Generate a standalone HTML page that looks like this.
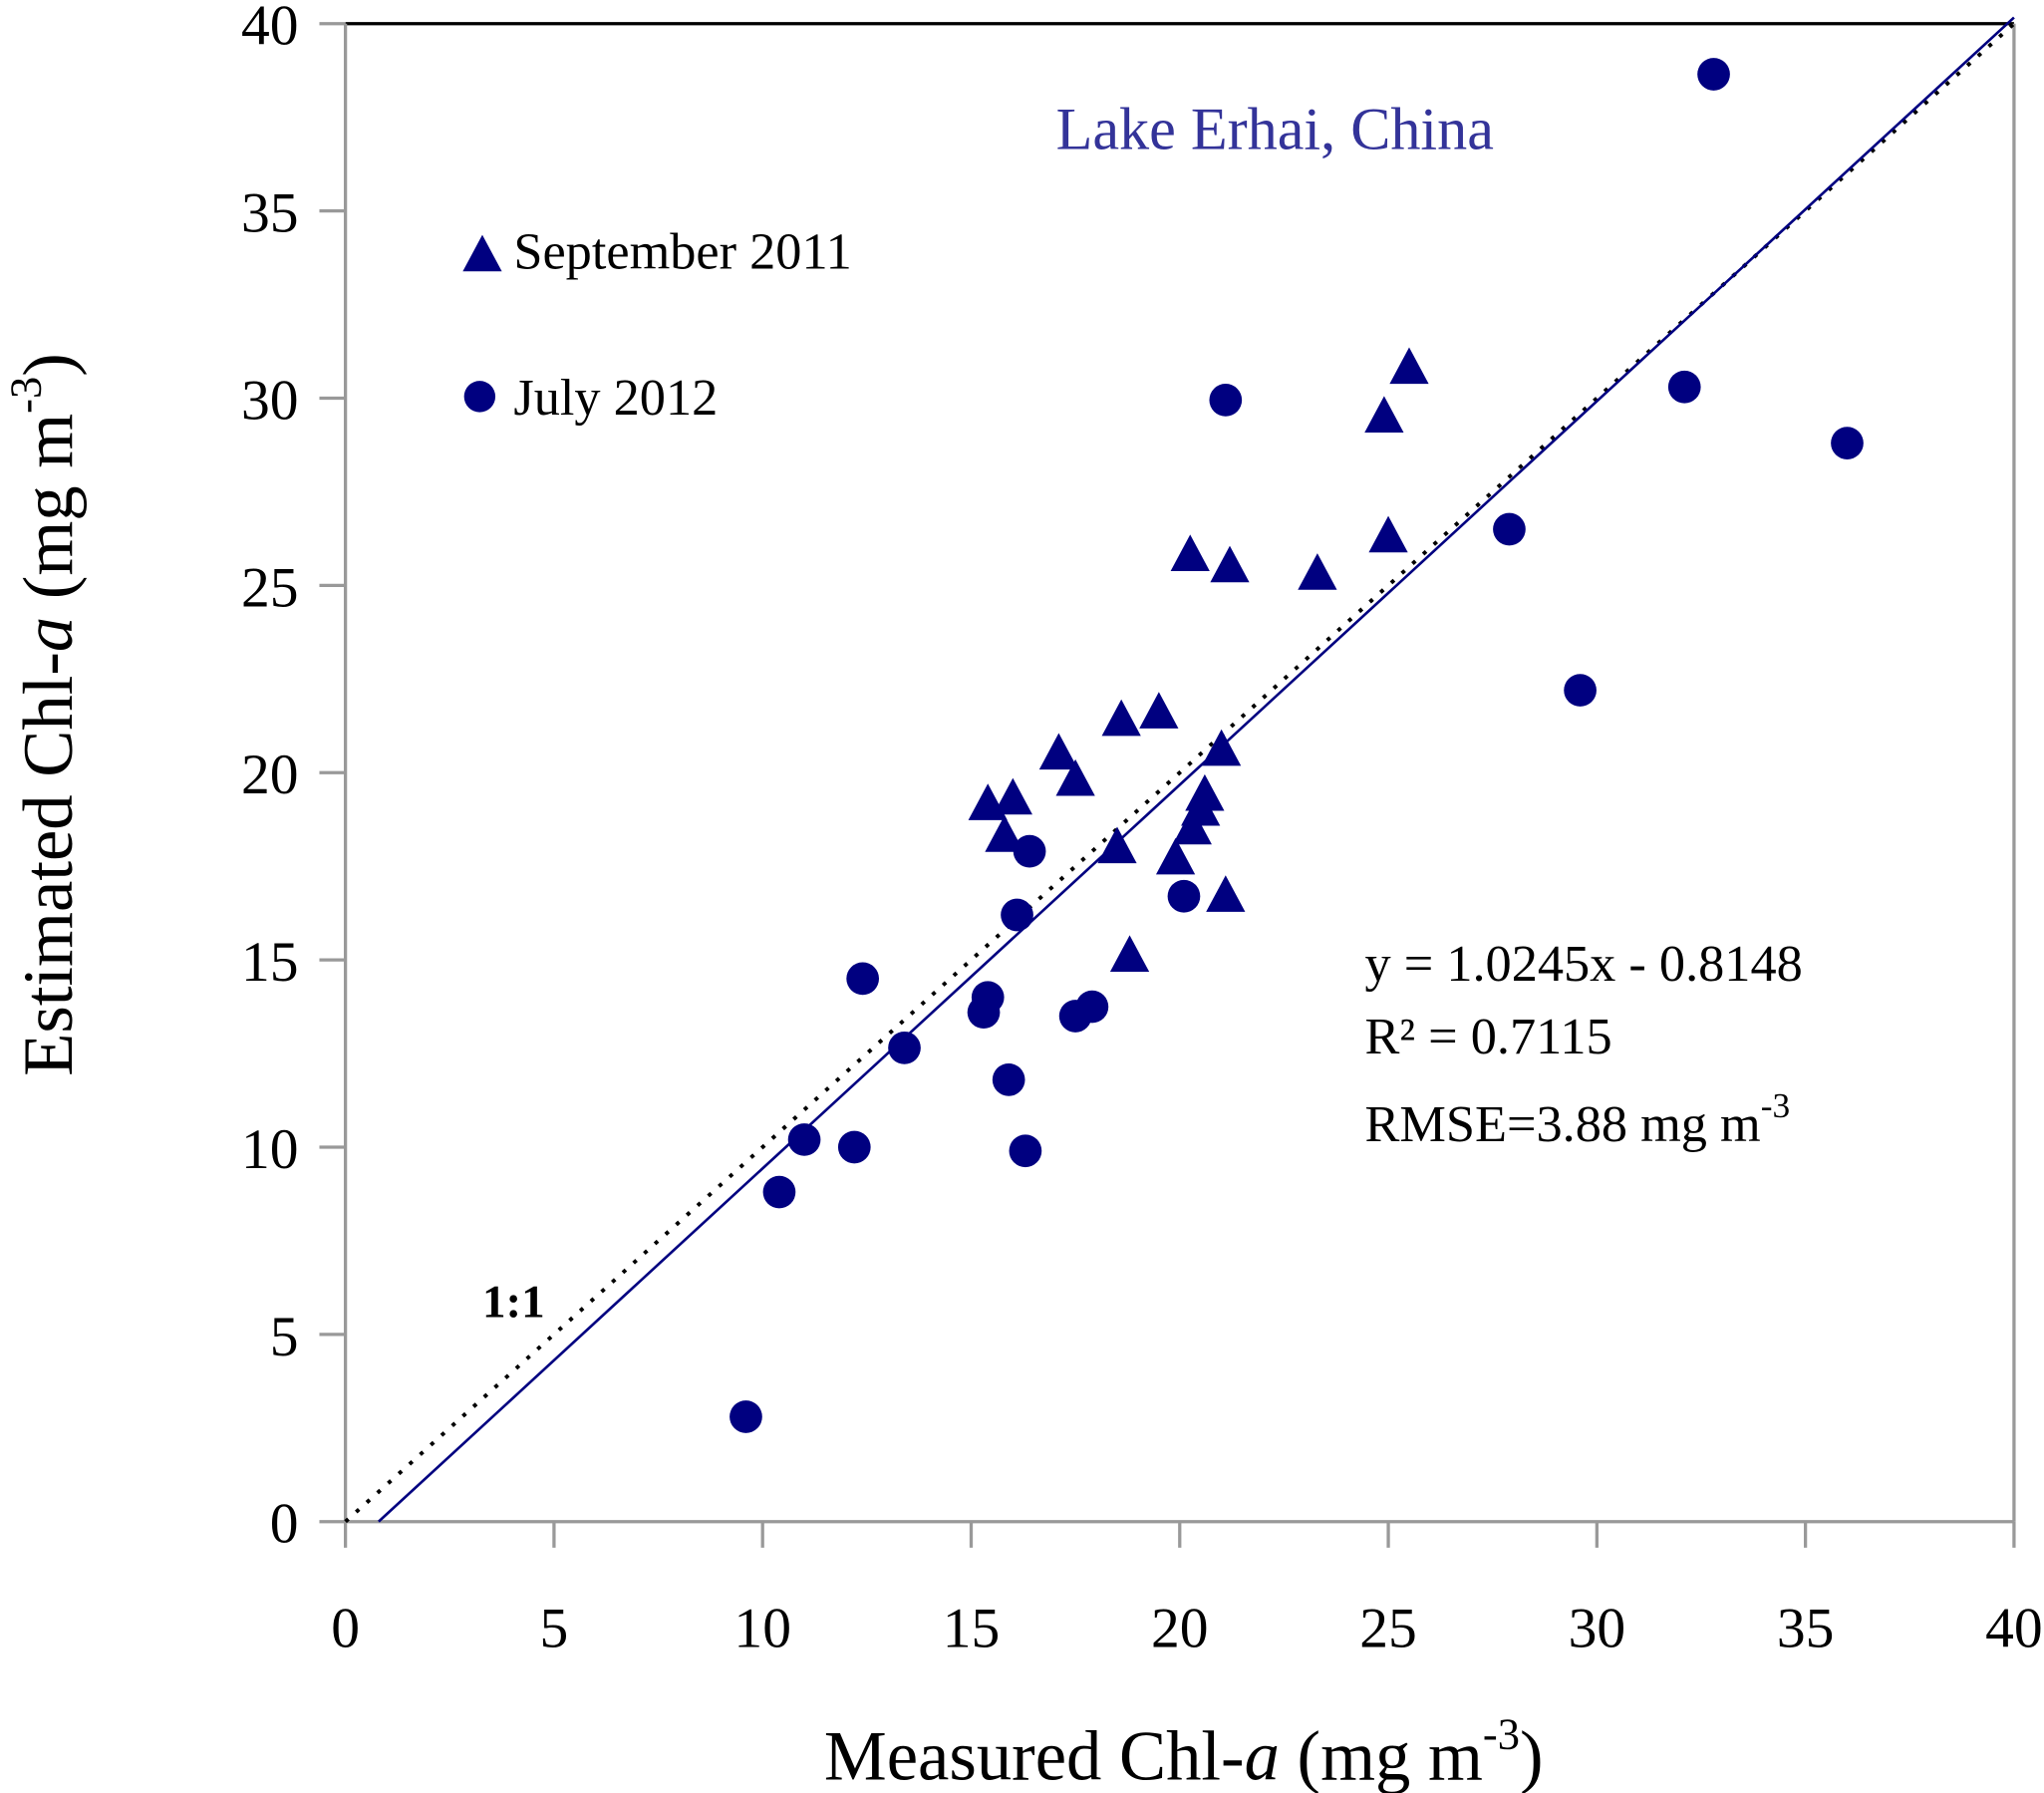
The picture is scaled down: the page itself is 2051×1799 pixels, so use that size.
<!DOCTYPE html>
<html><head><meta charset="utf-8"><style>
html,body{margin:0;padding:0;background:#fff;}
svg{display:block;}
text{font-family:"Liberation Serif",serif;}
</style></head><body>
<svg id="chart" width="2051" height="1799" viewBox="0 0 1568 1375" xmlns="http://www.w3.org/2000/svg">
<g id="axes"></g>
<g id="marks"></g>
<text x="978" y="114" font-size="46" fill="#333399" text-anchor="middle">Lake Erhai, China</text>
<g>
<polygon points="370,180 385,208 355,208" fill="#000080"/>
<text x="394" y="206" font-size="40">September 2011</text>
<circle cx="368" cy="304" r="12" fill="#000080"/>
<text x="394" y="318" font-size="40">July 2012</text>
</g>
<text x="1047" y="752" font-size="40">y = 1.0245x - 0.8148</text>
<text x="1047" y="808" font-size="40">R² = 0.7115</text>
<text x="1047" y="875" font-size="40">RMSE=3.88 mg m<tspan dy="-18" font-size="27">-3</tspan></text>
<text x="370" y="1010" font-size="36" font-weight="bold">1:1</text>
<text x="908" y="1365" font-size="54" text-anchor="middle">Measured Chl-<tspan font-style="italic">a</tspan>  (mg m<tspan dy="-24" font-size="34">-3</tspan><tspan dy="24">)</tspan></text>
<text transform="translate(55,548) rotate(-90)" font-size="54" text-anchor="middle">Estimated Chl-<tspan font-style="italic">a</tspan>  (mg m<tspan dy="-24" font-size="34">-3</tspan><tspan dy="24">)</tspan></text>
</svg>
<script>
const xTicks=[0,5,10,15,20,25,30,35,40];
const yTicks=[0,5,10,15,20,25,30,35,40];
const septX=[15.4,16.0,15.8,17.1,17.5,18.6,19.5,18.5,18.8,20.25,21.2,21.0,20.6,20.5,20.3,19.9,21.1,23.3,25.0,24.9,25.5];
const septY=[19.15,19.3,18.3,20.5,19.8,21.4,21.6,18.0,15.1,25.8,25.5,20.6,19.4,19.0,18.5,17.7,16.7,25.3,26.3,29.5,30.8];
const julyX=[32.8,32.1,36.0,21.1,27.9,29.6,20.1,16.4,16.1,12.4,15.4,15.3,17.9,17.5,13.4,15.9,11.0,12.2,16.3,10.4,9.6];
const julyY=[38.65,30.3,28.8,29.95,26.5,22.2,16.7,17.9,16.2,14.5,14.0,13.6,13.75,13.5,12.65,11.8,10.2,10.0,9.9,8.8,2.8];
const slope=1.0245, intercept=-0.8148;

const NS="http://www.w3.org/2000/svg";
const X0=265,X1=1545,Y0=1167,Y1=18;
const xs=v=>X0+(v/40)*(X1-X0);
const ys=v=>Y0-(v/40)*(Y0-Y1);
const axes=document.getElementById('axes'), marks=document.getElementById('marks');
function mk(tag,attrs,parent){const e=document.createElementNS(NS,tag);for(const k in attrs)e.setAttribute(k,attrs[k]);parent.appendChild(e);return e;}

let e;
e=mk('line',{x1:X0,y1:Y1,x2:X1,y2:Y1,stroke:'#000','stroke-width':2.5},axes);


e=mk('line',{x1:X1,y1:Y1,x2:X1,y2:Y0,stroke:'#999','stroke-width':2.5},axes);


e=mk('line',{x1:X0,y1:Y1,x2:X0,y2:Y0,stroke:'#999','stroke-width':2.5},axes);


e=mk('line',{x1:X0,y1:Y0,x2:X1,y2:Y0,stroke:'#999','stroke-width':2.5},axes);



xTicks.forEach(v=>{
  e=mk('line',{x1:xs(v),y1:Y0,x2:xs(v),y2:Y0+20,stroke:'#999','stroke-width':2.5},axes);
  
  
  e=mk('text',{x:xs(v),y:Y0+96,'font-size':44,'text-anchor':'middle'},axes);
  e.textContent=v;
  
  
});
yTicks.forEach(v=>{
  e=mk('line',{x1:X0-20,y1:ys(v),x2:X0,y2:ys(v),stroke:'#999','stroke-width':2.5},axes);
  
  
  e=mk('text',{x:X0-36,y:ys(v)+16,'font-size':44,'text-anchor':'end'},axes);
  e.textContent=v;
  
  
});

e=mk('line',{x1:xs(0),y1:ys(0),x2:xs(40),y2:ys(40),stroke:'#000','stroke-width':3,'stroke-dasharray':'3,8'},marks);


const xa=-intercept/slope, xb=40;
e=mk('line',{x1:xs(xa),y1:ys(slope*xa+intercept),x2:xs(xb),y2:ys(slope*xb+intercept),stroke:'#000080','stroke-width':2},marks);



septX.forEach((v,i)=>{
  const cx=xs(v), cy=ys(septY[i]);
  e=mk('polygon',{points:`${cx},${cy-16} ${cx+15},${cy+12} ${cx-15},${cy+12}`,fill:'#000080'},marks);
  
  
});
julyX.forEach((v,i)=>{
  e=mk('circle',{cx:xs(v),cy:ys(julyY[i]),r:12.5,fill:'#000080'},marks);
  
  
});
</script>
</body></html>
